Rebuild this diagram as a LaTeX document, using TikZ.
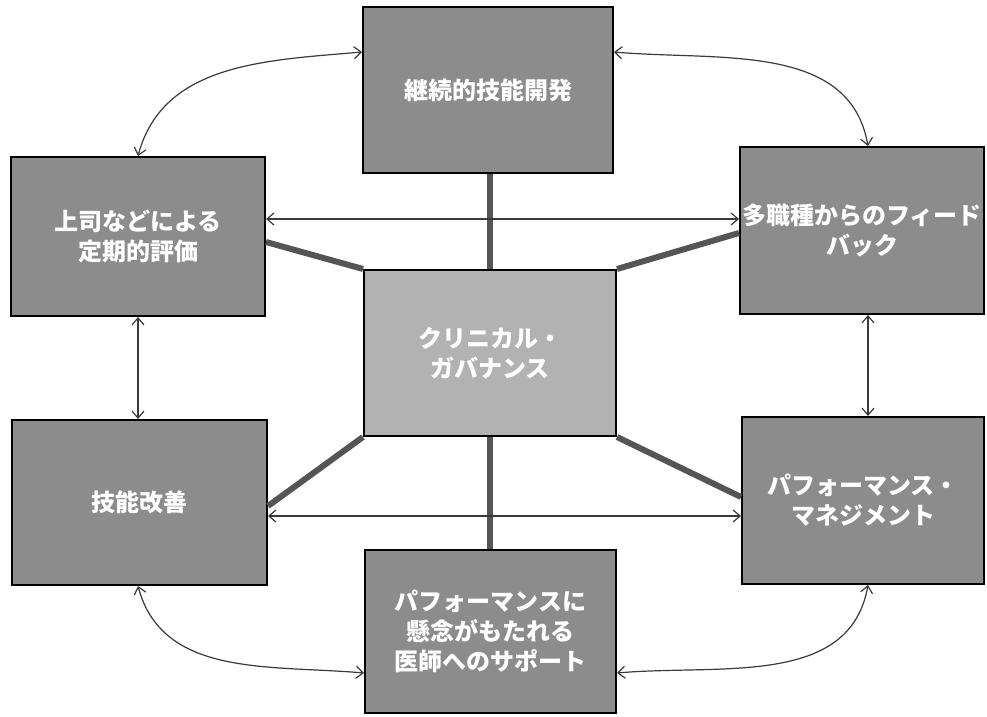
\documentclass[tikz,border=0pt]{standalone}
\usepackage{fontspec}
\newfontfamily\cjk{Noto Sans CJK JP}
\usetikzlibrary{arrows.meta}
\definecolor{boxgray}{HTML}{8C8C8C}
\definecolor{centergray}{HTML}{B2B2B2}
\definecolor{linkgray}{HTML}{555555}
\definecolor{arrowgray}{HTML}{3A3A3A}
\begin{document}
\begin{tikzpicture}[x=1pt,y=1pt,
  box/.style={draw=black, line width=2pt, fill=boxgray, text=white, align=center,
    font=\cjk\bfseries\fontsize{24}{30}\selectfont, inner sep=0pt},
  link/.style={draw=linkgray, line width=6pt},
  twoway/.style={draw=arrowgray, line width=1.2pt, {Straight Barb[length=7pt,width=12pt]}-{Straight Barb[length=7pt,width=12pt]}}]
\fill[white] (0,0) rectangle (987,716);
\useasboundingbox (0,0) rectangle (987,716);
% helper levels
\coordinate (yA) at (0,497);
\coordinate (yB) at (0,200);
\coordinate (yT) at (0,664);
\coordinate (yU) at (0,43);
\coordinate (yLT) at (0,474);
\coordinate (yRT) at (0,483);
\coordinate (yLB) at (0,210);
\coordinate (yRB) at (0,219);
\coordinate (xL) at (138,0);
\coordinate (xR) at (868,0);
% nodes
\node[box, minimum width=250pt, minimum height=166pt] (T) at (488,626) {継続的技能開発};
\node[box, minimum width=254pt, minimum height=159pt] (LT) at (138,479.5) {上司などによる\\定期的評価};
\node[box, minimum width=244pt, minimum height=167pt] (RT) at (862,485.5) {多職種からのフィード\\バック};
\node[box, fill=centergray, minimum width=252pt, minimum height=166pt] (C) at (490,363) {クリニカル・\\ガバナンス};
\node[box, minimum width=255pt, minimum height=165pt] (LB) at (139.5,213.5) {技能改善};
\node[box, minimum width=242pt, minimum height=167pt] (RB) at (863,215.5) {パフォーマンス・\\マネジメント};
\node[box, minimum width=251pt, minimum height=163pt] (B) at (490.5,84.5) {パフォーマンスに\\懸念がもたれる\\医師へのサポート};
% thick links
\draw[link] (C.north) -- (C.north |- T.south);
\draw[link] (C.south) -- (C.south |- B.north);
\draw[link] (C.north west) -- (LT.east |- yLT);
\draw[link] (C.north east) -- (RT.west |- yRT);
\draw[link] (C.south west) -- (LB.east |- yLB);
\draw[link] (C.south east) -- (RB.west |- yRB);
% straight two-way arrows
\draw[twoway] (LT.east |- yA) -- (RT.west |- yA);
\draw[twoway] (LB.east |- yB) -- (RB.west |- yB);
\draw[twoway] (xL |- LT.south) -- (xL |- LB.north);
\draw[twoway] (xR |- RT.south) -- (xR |- RB.north);
% curved two-way arrows
\draw[twoway] (xL |- LT.north) to[out=75,in=185] (T.west |- yT);
\draw[twoway] (T.east |- yT) to[out=-5,in=100] (xR |- RT.north);
\draw[twoway] (xL |- LB.south) to[out=-75,in=175] (B.west |- yU);
\draw[twoway] (xR |- RB.south) to[out=-100,in=5] (B.east |- yU);
\end{tikzpicture}
\end{document}
